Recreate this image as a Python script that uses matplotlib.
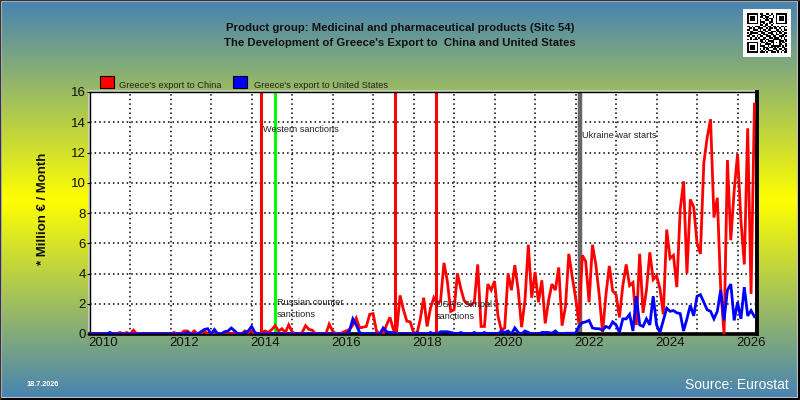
import numpy as np
import matplotlib
matplotlib.use('Agg')
import matplotlib.pyplot as plt
from matplotlib.patches import Rectangle

plt.rcParams['font.family'] = ['Liberation Sans', 'DejaVu Sans']

# monthly values, million euro, Jan 2010 to Jun 2026
china_2010 = [0, 0, 0, 0, 0, 0, 0, 0, 0, 0.1, 0, 0.1]
china_2011 = [0, 0.25, 0, 0, 0, 0, 0, 0, 0, 0, 0, 0]
china_2012 = [0, 0.1, 0, 0, 0.2, 0.2, 0, 0.2, 0, 0, 0.2, 0]
china_2013 = [0, 0, 0, 0, 0, 0, 0, 0, 0, 0, 0.2, 0.1]
china_2014 = [0.2, 0, 0, 0.1, 0.2, 0.1, 0.3, 0.55, 0.2, 0.35, 0.1, 0.6]
china_2015 = [0.15, 0, 0, 0.1, 0.55, 0.3, 0.25, 0, 0, 0, 0, 0.65]
china_2016 = [0.2, 0, 0, 0.1, 0.2, 0.3, 0.6, 1.05, 0.4, 0.45, 0.5, 1.3]
china_2017 = [1.35, 0.2, 0, 0, 0.6, 1.1, 0.3, 0.2, 2.55, 1.6, 0.85, 0.8]
china_2018 = [0.1, 0, 1.0, 2.4, 0.5, 1.7, 2.4, 2.0, 2.2, 4.7, 3.5, 1.5]
china_2019 = [1.6, 4.0, 3.0, 2.2, 2.0, 1.9, 2.1, 4.6, 0.5, 0.5, 3.3, 2.9]
china_2020 = [3.5, 1.2, 0.25, 0.4, 4.0, 2.9, 4.55, 2.9, 0.45, 2.2, 5.9, 2.4]
china_2021 = [4.1, 2.1, 3.55, 0.7, 2.2, 3.3, 2.9, 4.4, 0.55, 1.8, 5.3, 3.8]
china_2022 = [2.4, 0.7, 5.2, 4.8, 2.1, 5.9, 4.6, 2.6, 0.1, 2.6, 4.5, 2.85]
china_2023 = [2.6, 1.1, 3.2, 4.6, 3.2, 3.4, 0.6, 5.3, 1.4, 2.9, 5.4, 3.6]
china_2024 = [3.85, 3.0, 1.3, 6.9, 5.0, 5.2, 3.1, 8.2, 10.1, 4.0, 8.9, 8.4]
china_2025 = [6.0, 5.3, 11.3, 13.0, 14.2, 7.7, 9.0, 3.0, 0, 11.5, 6.2, 9.5]
china_2026 = [11.9, 7.5, 4.6, 13.6, 2.65, 15.2]

us_2010 = [0, 0, 0, 0, 0, 0, 0.1, 0, 0, 0, 0, 0]
us_2011 = [0, 0, 0, 0, 0, 0, 0, 0, 0, 0, 0, 0]
us_2012 = [0, 0, 0, 0, 0, 0.1, 0, 0, 0, 0.15, 0.3, 0.35]
us_2013 = [0, 0.3, 0, 0, 0.15, 0.2, 0.4, 0.2, 0, 0, 0.1, 0.2]
us_2014 = [0.5, 0.1, 0, 0, 0, 0, 0, 0, 0, 0, 0, 0]
us_2015 = [0, 0, 0, 0, 0, 0, 0, 0, 0, 0, 0, 0]
us_2016 = [0, 0, 0, 0, 0, 0.2, 1.0, 0.6, 0.1, 0, 0, 0]
us_2017 = [0, 0, 0, 0.4, 0.15, 0.1, 0.1, 0, 0, 0, 0, 0]
us_2018 = [0, 0.1, 0, 0, 0, 0.1, 0, 0, 0.15, 0.15, 0.15, 0.1]
us_2019 = [0.05, 0, 0.1, 0, 0, 0, 0.1, 0, 0, 0.1, 0, 0.05]
us_2020 = [0, 0, 0.2, 0.1, 0.2, 0, 0.4, 0.1, 0, 0.2, 0.1, 0]
us_2021 = [0, 0, 0.1, 0.1, 0.1, 0.05, 0.2, 0, 0, 0.05, 0.05, 0.05]
us_2022 = [0.05, 0.5, 0.75, 0.8, 0.9, 0.4, 0.35, 0.35, 0.25, 0.5, 0.4, 0.8]
us_2023 = [0.6, 0.1, 1.0, 1.0, 1.3, 0.2, 2.5, 0.6, 0.5, 1.0, 0.6, 2.5]
us_2024 = [0.6, 0.1, 0.9, 1.7, 1.5, 1.55, 1.4, 1.35, 0.2, 1.0, 1.9, 1.2]
us_2025 = [2.5, 2.6, 2.1, 1.6, 1.5, 1.0, 1.5, 2.9, 0.9, 2.9, 3.3, 0.9]
us_2026 = [2.1, 1.0, 3.1, 1.2, 1.55, 1.15]

china = (china_2010 + china_2011 + china_2012 + china_2013 + china_2014 + china_2015
         + china_2016 + china_2017 + china_2018 + china_2019 + china_2020 + china_2021
         + china_2022 + china_2023 + china_2024 + china_2025 + china_2026)
us = (us_2010 + us_2011 + us_2012 + us_2013 + us_2014 + us_2015 + us_2016 + us_2017
      + us_2018 + us_2019 + us_2020 + us_2021 + us_2022 + us_2023 + us_2024 + us_2025 + us_2026)
months = 2010 + np.arange(len(china)) / 12

event_years = [2014.23, 2014.57, 2017.53, 2018.56, 2022.11]
event_colors = ['#ff0000', '#00ff00', '#ff0000', '#ff0000', '#666666']
event_widths = [2.2, 2.2, 2.2, 2.2, 3.2]

year_ticks = list(range(2011, 2027))
label_years = list(range(2010, 2027, 2))
y_ticks = list(range(0, 17, 2))

qr_rows = [
    '1111111011001101001111111',
    '1000001001110010101000001',
    '1011101011011100101011101',
    '1011101000101011001011101',
    '1011101010011101001011101',
    '1000001011100011001000001',
    '1111111010101010101111111',
    '0000000011011001000000000',
    '1101011100110110110101101',
    '0110100111001011011010010',
    '1100111010110110001101011',
    '0011000111011001110110100',
    '1011111001100111001011011',
    '0110000110111001101100110',
    '1101101011001110110011101',
    '0010010100110011011101010',
    '1010111011101100111110011',
    '0000000011010111100011101',
    '1111111001101001101010110',
    '1000001010011110100011001',
    '1011101011100101111110101',
    '1011101000111011010100110',
    '1011101010101100111011011',
    '1000001001010111001100101',
    '1111111011101001110101011',
]

fig = plt.figure(figsize=(8, 4), dpi=100)

# background and page furniture, in pixel coordinates
bg = fig.add_axes([0, 0, 1, 1])
bg.set_xlim(0, 800)
bg.set_ylim(400, 0)
bg.axis('off')
top = np.array([70, 130, 180]) / 255
mid = np.array([255, 255, 0]) / 255
t = np.abs(np.linspace(-1, 1, 400))[:, None, None]
grad = t * top + (1 - t) * mid
bg.imshow(grad, extent=(0, 800, 400, 0), aspect='auto', zorder=0)
bg.add_patch(Rectangle((1, 1), 797, 397, fill=False, ec='#c8c8c8', lw=1.5, zorder=1))
bg.plot([0, 799, 799], [399, 399, 0], color='black', lw=1.5, zorder=2)
bg.plot([0, 0, 799], [399, 0, 0], color='#333333', lw=1, zorder=2)

bg.text(400, 28, 'Product group: Medicinal and pharmaceutical products (Sitc 54)', ha='center', va='center', fontsize=8.2, fontweight='bold', color='#111111')
bg.text(400, 43, "The Development of Greece's Export to  China and United States", ha='center', va='center', fontsize=8.2, fontweight='bold', color='#111111')
bg.text(43, 209, '* Million € / Month', rotation=90, ha='center', va='center', fontsize=9.5, fontweight='bold', color='#111111')
bg.text(26, 384, '18.7.2026', ha='left', va='center', fontsize=5.2, fontweight='bold', color='white')
bg.text(789, 385, 'Source: Eurostat', ha='right', va='center', fontsize=10, color='white')

bg.add_patch(Rectangle((100, 76), 14, 12, fc='#ff0000', ec='black', lw=0.8))
bg.text(119, 85, "Greece's export to China", ha='left', va='center', fontsize=6.7, color='#222222')
bg.add_patch(Rectangle((233, 76), 14, 12, fc='#0000ff', ec='black', lw=0.8))
bg.text(254, 85, "Greece's export to United States", ha='left', va='center', fontsize=6.7, color='#222222')

qr = np.array([[1 - int(c) for c in row] for row in qr_rows], dtype=float)
bg.add_patch(Rectangle((743, 9), 48, 48, fc='white', ec='none', zorder=3))
bg.imshow(qr, extent=(747, 787, 53, 13), cmap='gray', vmin=0, vmax=1, interpolation='nearest', aspect='auto', zorder=4)
bg.set_xlim(0, 800)
bg.set_ylim(400, 0)

ax = fig.add_axes([90 / 800, 1 - 334 / 400, (757 - 90) / 800, (334 - 92) / 400])
ax.set_xlim(2010.01, 2026.48)
ax.set_ylim(0, 16)

for yr, col, lw in zip(event_years, event_colors, event_widths):
    ax.axvline(yr, color=col, lw=lw, zorder=2)
ax.plot(months, china, color='#ff0000', lw=2.0, zorder=3, solid_joinstyle='miter')
ax.plot(months, us, color='#0000ff', lw=2.0, zorder=3, solid_joinstyle='miter')

ax.set_xticks(year_ticks, minor=True)
ax.set_xticks([y + 0.33 for y in label_years])
ax.set_xticklabels([str(y) for y in label_years], fontsize=9.5, color='#111111')
ax.set_yticks(y_ticks)
ax.set_yticklabels([str(y) for y in y_ticks], fontsize=9.5, color='#111111')
ax.tick_params(axis='x', which='both', length=0, pad=2)
ax.tick_params(axis='y', length=2, pad=1)
ax.grid(False)
ax.grid(axis='x', which='minor', color='black', lw=1.1, ls=(0, (1, 2)), zorder=1)
ax.grid(axis='y', which='major', color='black', lw=1.1, ls=(0, (1, 2)), zorder=1)
ax.set_axisbelow(True)

note = dict(fontsize=6.6, color='#222222', ha='left', va='center', zorder=5)
ax.text(2014.27, 13.5, 'Western sanctions', **note)
ax.text(2014.62, 2.05, 'Russian counter', **note)
ax.text(2014.62, 1.3, 'sanctions', **note)
ax.text(2018.55, 1.95, "USA's Skripal", **note)
ax.text(2018.55, 1.15, 'sanctions', **note)
ax.text(2022.17, 13.1, 'Ukraine war starts', **note)

ax.spines['bottom'].set_linewidth(2.6)
ax.spines['right'].set_linewidth(2.8)
ax.spines['left'].set_linewidth(1)
ax.spines['top'].set_linewidth(1)
bg.plot([89, 89, 757], [334, 91, 91], color='#d0d0d0', lw=1.2, zorder=2)

fig.savefig('out.png', dpi=100)
